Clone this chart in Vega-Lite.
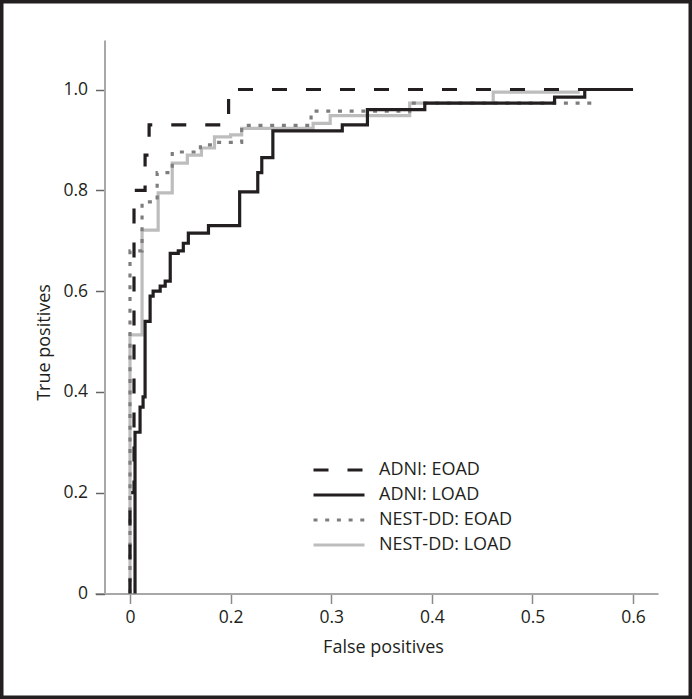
{
  "$schema": "https://vega.github.io/schema/vega-lite/v6.json",
  "width": 692,
  "height": 699,
  "autosize": {"type": "none"},
  "padding": 0,
  "background": "white",
  "config": {
    "view": {"stroke": "#231f20", "strokeWidth": 7},
    "font": "Open Sans",
    "axis": {"grid": false}
  },
  "data": {
    "values": [
      {"series": "NEST-DD: LOAD", "i": 1, "fp": 0, "tp": 0},
      {"series": "NEST-DD: LOAD", "i": 2, "fp": 0, "tp": 0.513},
      {"series": "NEST-DD: LOAD", "i": 3, "fp": 0.012, "tp": 0.721},
      {"series": "NEST-DD: LOAD", "i": 4, "fp": 0.028, "tp": 0.795},
      {"series": "NEST-DD: LOAD", "i": 5, "fp": 0.042, "tp": 0.854},
      {"series": "NEST-DD: LOAD", "i": 6, "fp": 0.057, "tp": 0.87},
      {"series": "NEST-DD: LOAD", "i": 7, "fp": 0.071, "tp": 0.884},
      {"series": "NEST-DD: LOAD", "i": 8, "fp": 0.084, "tp": 0.906},
      {"series": "NEST-DD: LOAD", "i": 9, "fp": 0.1, "tp": 0.91},
      {"series": "NEST-DD: LOAD", "i": 10, "fp": 0.111, "tp": 0.923},
      {"series": "NEST-DD: LOAD", "i": 11, "fp": 0.182, "tp": 0.933},
      {"series": "NEST-DD: LOAD", "i": 12, "fp": 0.199, "tp": 0.948},
      {"series": "NEST-DD: LOAD", "i": 13, "fp": 0.278, "tp": 0.973},
      {"series": "NEST-DD: LOAD", "i": 14, "fp": 0.361, "tp": 0.995},
      {"series": "NEST-DD: LOAD", "i": 15, "fp": 0.447, "tp": 0.995},
      {"series": "NEST-DD: EOAD", "i": 1, "fp": 0, "tp": 0},
      {"series": "NEST-DD: EOAD", "i": 2, "fp": 0, "tp": 0.68},
      {"series": "NEST-DD: EOAD", "i": 3, "fp": 0.012, "tp": 0.777},
      {"series": "NEST-DD: EOAD", "i": 4, "fp": 0.027, "tp": 0.835},
      {"series": "NEST-DD: EOAD", "i": 5, "fp": 0.042, "tp": 0.876},
      {"series": "NEST-DD: EOAD", "i": 6, "fp": 0.07, "tp": 0.89},
      {"series": "NEST-DD: EOAD", "i": 7, "fp": 0.085, "tp": 0.895},
      {"series": "NEST-DD: EOAD", "i": 8, "fp": 0.111, "tp": 0.929},
      {"series": "NEST-DD: EOAD", "i": 9, "fp": 0.18, "tp": 0.957},
      {"series": "NEST-DD: EOAD", "i": 10, "fp": 0.278, "tp": 0.973},
      {"series": "NEST-DD: EOAD", "i": 11, "fp": 0.46, "tp": 0.973},
      {"series": "ADNI: LOAD", "i": 1, "fp": 0.005, "tp": 0},
      {"series": "ADNI: LOAD", "i": 2, "fp": 0.005, "tp": 0.32},
      {"series": "ADNI: LOAD", "i": 3, "fp": 0.01, "tp": 0.37},
      {"series": "ADNI: LOAD", "i": 4, "fp": 0.013, "tp": 0.39},
      {"series": "ADNI: LOAD", "i": 5, "fp": 0.015, "tp": 0.54},
      {"series": "ADNI: LOAD", "i": 6, "fp": 0.02, "tp": 0.59},
      {"series": "ADNI: LOAD", "i": 7, "fp": 0.023, "tp": 0.6},
      {"series": "ADNI: LOAD", "i": 8, "fp": 0.03, "tp": 0.61},
      {"series": "ADNI: LOAD", "i": 9, "fp": 0.035, "tp": 0.62},
      {"series": "ADNI: LOAD", "i": 10, "fp": 0.04, "tp": 0.675},
      {"series": "ADNI: LOAD", "i": 11, "fp": 0.048, "tp": 0.68},
      {"series": "ADNI: LOAD", "i": 12, "fp": 0.053, "tp": 0.695},
      {"series": "ADNI: LOAD", "i": 13, "fp": 0.058, "tp": 0.715},
      {"series": "ADNI: LOAD", "i": 14, "fp": 0.078, "tp": 0.73},
      {"series": "ADNI: LOAD", "i": 15, "fp": 0.109, "tp": 0.797},
      {"series": "ADNI: LOAD", "i": 16, "fp": 0.127, "tp": 0.835},
      {"series": "ADNI: LOAD", "i": 17, "fp": 0.131, "tp": 0.865},
      {"series": "ADNI: LOAD", "i": 18, "fp": 0.142, "tp": 0.918},
      {"series": "ADNI: LOAD", "i": 19, "fp": 0.211, "tp": 0.93},
      {"series": "ADNI: LOAD", "i": 20, "fp": 0.236, "tp": 0.96},
      {"series": "ADNI: LOAD", "i": 21, "fp": 0.293, "tp": 0.973},
      {"series": "ADNI: LOAD", "i": 22, "fp": 0.422, "tp": 0.985},
      {"series": "ADNI: LOAD", "i": 23, "fp": 0.452, "tp": 1.0},
      {"series": "ADNI: LOAD", "i": 24, "fp": 0.5, "tp": 1.0},
      {"series": "ADNI: EOAD", "i": 1, "fp": 0, "tp": 0},
      {"series": "ADNI: EOAD", "i": 2, "fp": 0, "tp": 0.2},
      {"series": "ADNI: EOAD", "i": 3, "fp": 0.004, "tp": 0.8},
      {"series": "ADNI: EOAD", "i": 4, "fp": 0.015, "tp": 0.87},
      {"series": "ADNI: EOAD", "i": 5, "fp": 0.019, "tp": 0.93},
      {"series": "ADNI: EOAD", "i": 6, "fp": 0.098, "tp": 1.0},
      {"series": "ADNI: EOAD", "i": 7, "fp": 0.5, "tp": 1.0}
    ]
  },
  "mark": {"type": "line", "interpolate": "step-after", "strokeWidth": 3.2},
  "encoding": {
    "x": {
      "field": "fp",
      "type": "quantitative",
      "scale": {"domain": [-0.1292, 0.5586], "nice": false, "zero": false},
      "axis": {
        "orient": "bottom",
        "offset": -105.5,
        "values": [0, 0.1, 0.2, 0.3, 0.4, 0.5],
        "labelExpr": "datum.value == 0 ? '0' : format(datum.value + 0.1, '.1f')",
        "domainDash": [0, 95, 563, 100],
        "domainColor": "#a8a8a8",
        "domainWidth": 2,
        "tickColor": "#8a8a8a",
        "tickWidth": 1.5,
        "tickSize": 10,
        "labelPadding": 5,
        "labelFont": "Open Sans",
        "labelFontSize": 17.5,
        "labelColor": "#231f20",
        "title": "False positives",
        "titleFont": "Open Sans",
        "titleFontSize": 18,
        "titleFontWeight": "normal",
        "titleColor": "#231f20",
        "titleX": 383,
        "titleY": 54,
        "titleBaseline": "middle",
        "titleAlign": "center"
      }
    },
    "y": {
      "field": "tp",
      "type": "quantitative",
      "scale": {"domain": [-0.2093, 1.1776], "nice": false, "zero": false},
      "axis": {
        "orient": "left",
        "offset": -104.5,
        "values": [0, 0.2, 0.4, 0.6, 0.8, 1],
        "labelExpr": "datum.value == 0 ? '0' : format(datum.value, '.1f')",
        "domainDash": [0, 105.5, 553.5, 200],
        "domainColor": "#a8a8a8",
        "domainWidth": 2,
        "tickColor": "#666666",
        "tickWidth": 1.5,
        "tickSize": 9,
        "labelPadding": 8,
        "labelFont": "Open Sans",
        "labelFontSize": 17.5,
        "labelColor": "#231f20",
        "title": "True positives",
        "titleFont": "Open Sans",
        "titleFontSize": 18,
        "titleFontWeight": "normal",
        "titleColor": "#231f20",
        "titleAngle": -90,
        "titleX": -60.5,
        "titleY": 342,
        "titleBaseline": "middle",
        "titleAlign": "center"
      }
    },
    "color": {
      "field": "series",
      "type": "nominal",
      "scale": {
        "domain": ["ADNI: EOAD", "ADNI: LOAD", "NEST-DD: EOAD", "NEST-DD: LOAD"],
        "range": ["#231f20", "#231f20", "#7d7d7d", "#bdbdbd"]
      },
      "legend": {
        "title": null,
        "orient": "none",
        "legendX": 327,
        "legendY": 458,
        "padding": 0,
        "symbolType": "M-2.55,0H2.55",
        "symbolSize": 400,
        "symbolStrokeWidth": 3.2,
        "labelFont": "Open Sans",
        "labelFontSize": 18,
        "labelColor": "#231f20",
        "labelOffset": 28,
        "rowPadding": 4
      }
    },
    "strokeDash": {
      "field": "series",
      "type": "nominal",
      "scale": {
        "domain": ["ADNI: EOAD", "ADNI: LOAD", "NEST-DD: EOAD", "NEST-DD: LOAD"],
        "range": [[15, 19], [1, 0], [4, 7.7], [1, 0]]
      },
      "legend": {
        "title": null,
        "orient": "none",
        "legendX": 327,
        "legendY": 458,
        "padding": 0,
        "symbolType": "M-2.55,0H2.55",
        "symbolSize": 400,
        "symbolStrokeWidth": 3.2,
        "labelFont": "Open Sans",
        "labelFontSize": 18,
        "labelColor": "#231f20",
        "labelOffset": 28,
        "rowPadding": 4
      }
    },
    "order": {"field": "i", "type": "quantitative"}
  }
}
